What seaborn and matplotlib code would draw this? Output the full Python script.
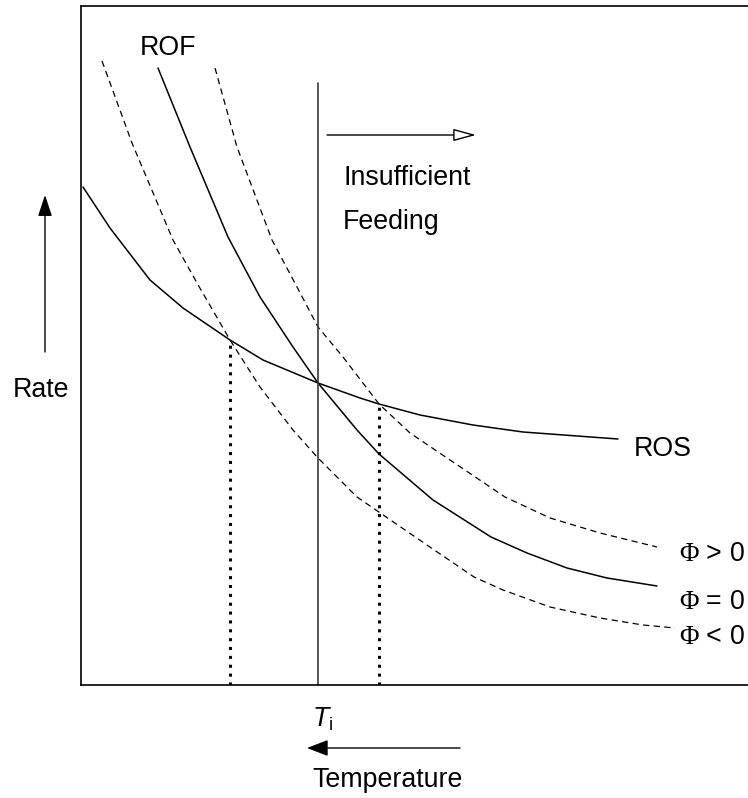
import matplotlib
matplotlib.use("Agg")
import matplotlib.pyplot as plt
import seaborn as sns

# curve data (arbitrary units)
ros_x = [2, 29, 69, 102, 149, 182, 237, 279, 298, 339, 392, 442, 537]
ros_y = [498, 457, 405, 377, 345, 325, 302, 287, 281, 270, 260, 253, 246]

rof_x = [77, 109, 147, 179, 212, 237, 276, 298, 352, 410, 446, 486, 526, 576]
rof_y = [617, 538, 448, 388, 338, 302, 255, 231, 185, 148, 132, 117, 107, 99]

phi_pos_x = [134, 156, 191, 216, 237, 262, 298, 329, 369, 424, 469, 519, 576]
phi_pos_y = [617, 538, 445, 398, 358, 328, 281, 252, 225, 188, 167, 152, 138]

phi_neg_x = [21, 51, 92, 116, 149, 179, 212, 237, 276, 343, 393, 422, 469, 519, 562, 594]
phi_neg_y = [624, 542, 445, 402, 345, 298, 255, 227, 188, 142, 108, 95, 78, 67, 60, 57]

t_i = 237
t_i_top = 602
low_x, low_y = 149, 345      # ROS crossing with phi < 0
high_x, high_y = 298, 281    # ROS crossing with phi > 0

sns.set_theme(style="white")
plt.rcParams["font.family"] = ["Liberation Sans", "DejaVu Sans"]
plt.rcParams["text.color"] = "black"
plt.rcParams["mathtext.fontset"] = "custom"
plt.rcParams["mathtext.rm"] = "Liberation Serif"
plt.rcParams["mathtext.it"] = "Liberation Sans:italic"
plt.rcParams["mathtext.sf"] = "Liberation Sans"

fig = plt.figure(figsize=(7.48, 7.98), dpi=100)
ax = fig.add_axes([81 / 748, 113 / 798, 667 / 748, 679 / 798])

fs = 19.3
dash = (0, (5, 3.5))

sns.lineplot(x=ros_x, y=ros_y, ax=ax, color="black", lw=1.1, sort=False)
sns.lineplot(x=rof_x, y=rof_y, ax=ax, color="black", lw=1.1, sort=False)
sns.lineplot(x=phi_pos_x, y=phi_pos_y, ax=ax, color="black", lw=0.9, linestyle=dash, sort=False)
sns.lineplot(x=phi_neg_x, y=phi_neg_y, ax=ax, color="black", lw=0.9, linestyle=dash, sort=False)

# T_i line and the two dotted drop lines
ax.plot([t_i, t_i], [0, t_i_top], color="#3a3a3a", lw=1.2)
ax.plot([low_x, low_x], [0, low_y], color="black", lw=2.2, linestyle=(0, (1, 1.9)))
ax.plot([high_x, high_x], [0, high_y], color="black", lw=2.2, linestyle=(0, (1, 1.9)))

ax.set_xlim(0, 667)
ax.set_ylim(0, 679)
ax.set_xticks([])
ax.set_yticks([])
for side in ["left", "top", "bottom"]:
    ax.spines[side].set_color("black")
    ax.spines[side].set_linewidth(1.2)
ax.spines["right"].set_visible(False)

# labels
ax.text(87, 637, "ROF", fontsize=fs, ha="center", va="center")
ax.text(262, 507, "Insufficient", fontsize=fs, ha="left", va="center")
ax.text(262, 463, "Feeding", fontsize=fs, ha="left", va="center")
ax.text(553, 236, "ROS", fontsize=fs, ha="left", va="center")
ax.text(598, 131, r"$\Phi$ > 0", fontsize=fs, ha="left", va="center", clip_on=False)
ax.text(598, 83, r"$\Phi$ = 0", fontsize=fs, ha="left", va="center", clip_on=False)
ax.text(598, 48, r"$\Phi$ < 0", fontsize=fs, ha="left", va="center", clip_on=False)
ax.text(-40, 295, "Rate", fontsize=fs, ha="center", va="center", clip_on=False)
ax.text(231, -34, r"$T_{\mathsf{i}}$", fontsize=fs, ha="left", va="center", clip_on=False)
ax.text(231, -95, "Temperature", fontsize=fs, ha="left", va="center", clip_on=False)

# arrows
ax.annotate("", xy=(395, 550), xytext=(246, 550),
            arrowprops=dict(arrowstyle="-|>,head_length=14,head_width=3.8",
                            mutation_scale=1, fc="white", ec="black", lw=1.0,
                            shrinkA=0, shrinkB=0))
ax.annotate("", xy=(-36, 490), xytext=(-36, 333), annotation_clip=False,
            arrowprops=dict(arrowstyle="-|>,head_length=13,head_width=4.3",
                            mutation_scale=1, fc="black", ec="black", lw=1.0,
                            shrinkA=0, shrinkB=0))
ax.annotate("", xy=(226, -63), xytext=(379, -63), annotation_clip=False,
            arrowprops=dict(arrowstyle="-|>,head_length=13,head_width=5",
                            mutation_scale=1, fc="black", ec="black", lw=1.0,
                            shrinkA=0, shrinkB=0))

fig.savefig("out.png", dpi=100)
